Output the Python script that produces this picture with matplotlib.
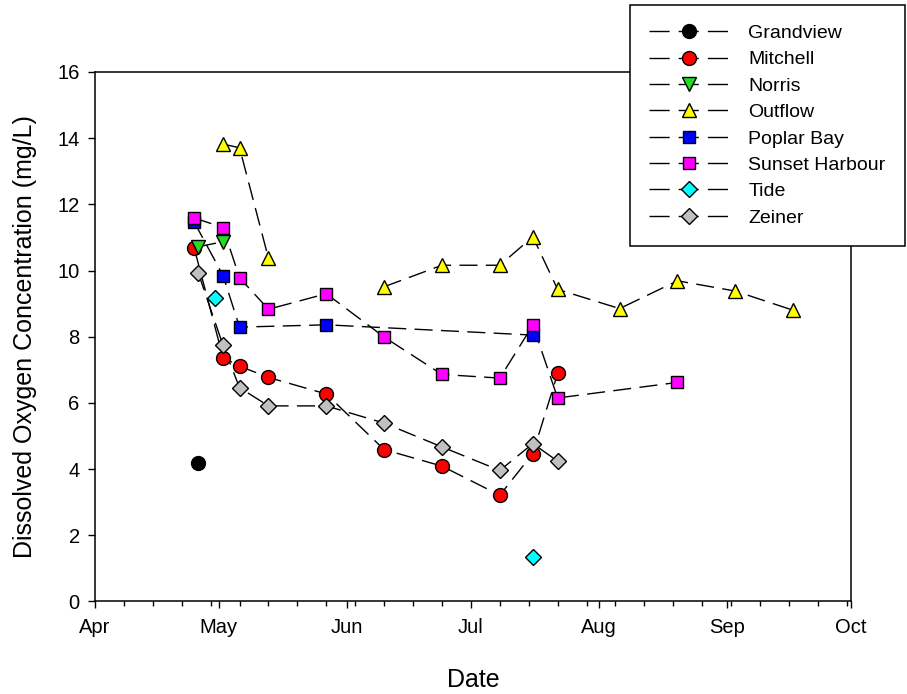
import numpy as np
import pandas as pd
import matplotlib
matplotlib.use("Agg")
import matplotlib.pyplot as plt
import matplotlib.dates as mdates
from matplotlib.lines import Line2D

plt.rcParams["font.family"] = ["Liberation Sans", "DejaVu Sans"]

YEAR = "2011"

def d(s):
    return pd.to_datetime([YEAR + "-" + x for x in s])

# dissolved oxygen (mg/L) by site and sampling date
grandview_dates = ["04-26"]
grandview_do = [4.18]

mitchell_dates = ["04-25", "05-02", "05-06", "05-13", "05-27", "06-10", "06-24", "07-08", "07-16", "07-22"]
mitchell_do = [10.69, 7.37, 7.11, 6.77, 6.27, 4.59, 4.09, 3.21, 4.47, 6.89]

norris_dates = ["04-26", "05-02"]
norris_do = [10.72, 10.87]

outflow_dates = ["05-02", "05-06", "05-13", "05-27", "06-10", "06-24", "07-08", "07-16", "07-22",
                 "08-06", "08-20", "09-03", "09-17"]
outflow_do = [13.82, 13.71, 10.37, np.nan, 9.51, 10.16, 10.16, 11.02, 9.43, 8.85, 9.69, 9.38, 8.80]

poplar_dates = ["04-25", "05-02", "05-06", "05-27", "07-16"]
poplar_do = [11.47, 9.85, 8.29, 8.36, 8.05]

sunset_dates = ["04-25", "05-02", "05-06", "05-13", "05-27", "06-10", "06-24", "07-08", "07-16",
                "07-22", "08-20"]
sunset_do = [11.59, 11.30, 9.78, 8.83, 9.30, 7.99, 6.86, 6.75, 8.35, 6.15, 6.62]

tide_dates = ["04-30", "07-16"]
tide_do = [9.16, 1.34]

zeiner_dates = ["04-26", "05-02", "05-06", "05-13", "05-27", "06-10", "06-24", "07-08", "07-16", "07-22"]
zeiner_do = [9.93, 7.74, 6.46, 5.91, 5.91, 5.39, 4.67, 3.96, 4.77, 4.24]

month_labels = ["Apr", "May", "Jun", "Jul", "Aug", "Sep", "Oct"]

# name, dates, values, marker, size, face colour, joined
series = [
    ("Grandview", grandview_dates, grandview_do, "o", 10, "#000000", False),
    ("Mitchell", mitchell_dates, mitchell_do, "o", 10, "#ff0000", True),
    ("Norris", norris_dates, norris_do, "v", 10, "#22dd22", True),
    ("Outflow", outflow_dates, outflow_do, "^", 10, "#ffff00", True),
    ("Poplar Bay", poplar_dates, poplar_do, "s", 9, "#0000ff", True),
    ("Sunset Harbour", sunset_dates, sunset_do, "s", 9, "#ff00ff", True),
    ("Tide", tide_dates, tide_do, "D", 8, "#00ffff", False),
    ("Zeiner", zeiner_dates, zeiner_do, "D", 8, "#c0c0c0", True),
]

fig = plt.figure(figsize=(9.07, 6.94), dpi=100)
ax = fig.add_axes([0.1047, 0.1333, 0.8335, 0.763])

handles = []
for name, dates, vals, mk, ms, fc, joined in series:
    x = d(dates)
    if joined:
        ax.plot(x, vals, color="black", lw=1, dashes=(13, 6), zorder=2)
    ax.plot(x, vals, ls="none", marker=mk, ms=ms, mfc=fc, mec="black", mew=1, zorder=3)
    handles.append(Line2D([], [], color="black", lw=1, dashes=(14.5, 6.5), marker=mk, ms=ms,
                          mfc=fc, mec="black", mew=1, label=name))

start = pd.Timestamp(YEAR + "-04-01")
end = pd.Timestamp(YEAR + "-10-01")
ax.set_xlim(start, end)
ax.set_ylim(0, 16)

majors = pd.date_range(start, end, freq="MS")
ax.xaxis.set_major_locator(matplotlib.ticker.FixedLocator(mdates.date2num(majors)))
ax.xaxis.set_major_formatter(matplotlib.ticker.FixedFormatter(month_labels))
weeks = pd.date_range(start, end, freq="7D")
ax.xaxis.set_minor_locator(matplotlib.ticker.FixedLocator(mdates.date2num(weeks)))
ax.set_yticks(np.arange(0, 17, 2))

ax.tick_params(axis="x", which="major", direction="out", length=5, width=1, pad=7, labelsize=14.5)
ax.tick_params(axis="x", which="minor", direction="out", length=3.5, width=1)
ax.tick_params(axis="y", which="major", direction="out", length=5, width=1, pad=6, labelsize=14.5)
for sp in ax.spines.values():
    sp.set_linewidth(1.1)

ax.set_xlabel("Date", fontsize=18)
ax.set_ylabel("Dissolved Oxygen Concentration (mg/L)", fontsize=18)
ax.xaxis.set_label_coords(0.5, -0.126)
ax.yaxis.set_label_coords(-0.077, 0.5)

leg = fig.legend(handles=handles, loc="upper right", bbox_to_anchor=(905 / 907, 1 - 5 / 694),
                 fontsize=14, handlelength=4.1, handletextpad=1.0, labelspacing=0.45,
                 borderpad=1.0, borderaxespad=0, frameon=True, fancybox=False,
                 framealpha=1, edgecolor="black")
leg.get_frame().set_linewidth(1.1)

fig.savefig("out.png", dpi=100)
